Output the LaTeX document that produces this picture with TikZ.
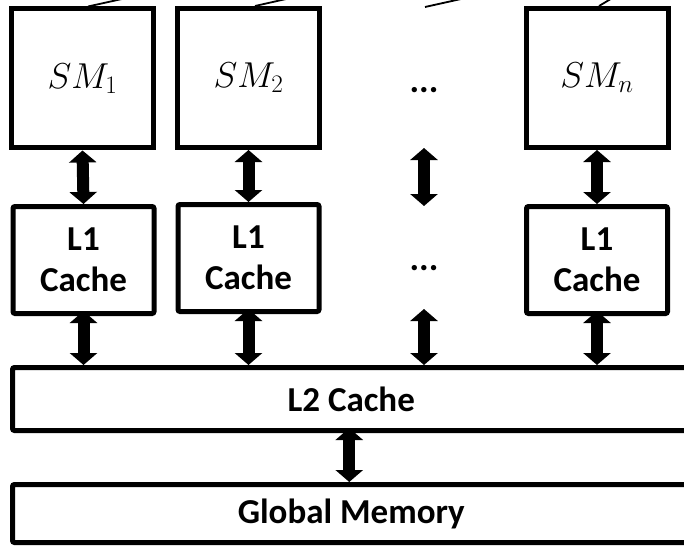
\RequirePackage{fix-cm}
\documentclass[tikz,border=0pt]{standalone}
\usepackage{fontspec}
\setmainfont{Carlito}
\usetikzlibrary{arrows.meta}
\tikzset{
  smbox/.style={draw=black, line width=5pt, minimum width=142pt, minimum height=139pt, inner sep=0pt, font=\fontsize{36}{40}\selectfont},
  lonebox/.style={draw=black, line width=5pt, rounded corners=2pt, minimum width=141pt, minimum height=107pt, inner sep=0pt, align=center, font=\fontsize{35}{41}\selectfont\bfseries},
  widebox/.style={draw=black, line width=5pt, rounded corners=2pt, inner sep=0pt, font=\fontsize{35}{41}\selectfont\bfseries},
  dotsnode/.style={inner sep=0pt, font=\fontsize{36}{40}\selectfont\bfseries},
  bigarrow/.style={line width=12pt, {Triangle[width=27pt,length=12pt]}-{Triangle[width=27pt,length=12pt]}},
  thinline/.style={line width=1.8pt}
}
\begin{document}
\begin{tikzpicture}[x=1pt,y=-1pt]
\useasboundingbox (0,0) rectangle (684,548);
\clip (0,0) rectangle (684,548);
% SM row
\node[smbox] (sm1) at (82.5,78.5) {$SM_1$};
\node[smbox] (sm2) at (248.5,78) {$SM_2$};
\node[dotsnode] (dots1) at (424,90) {...};
\node[smbox] (smn) at (597,78) {$SM_n$};
% L1 row
\node[lonebox] (l1a) at (83.5,260) {L1\\Cache};
\node[lonebox] (l1b) at (248.5,258) {L1\\Cache};
\node[dotsnode] (dots2) at (424,268) {...};
\node[lonebox] (l1n) at (597,260) {L1\\Cache};
% L2 and global
\node[widebox, minimum width=677.5pt, minimum height=63pt] (l2) at (351.25,399) {L2 Cache};
\node[widebox, minimum width=677.5pt, minimum height=58pt] (gm) at (351.25,513.5) {Global Memory};
% middle column coordinates
\coordinate (m1) at (424,148);
\coordinate (m2) at (424,206);
\coordinate (m3) at (424,309);
% top lines
\coordinate (t1) at (140,-5);
\coordinate (t2) at (295,-3);
\coordinate (t3) at (470,-3);
\coordinate (t4) at (614,-3);
\coordinate (b3) at (425,7);
\draw[thinline] ([xshift=5.5pt]sm1.north) -- (t1);
\draw[thinline] ([xshift=6.5pt]sm2.north) -- (t2);
\draw[thinline] (b3) -- (t3);
\draw[thinline] ([xshift=2pt]smn.north) -- (t4);
% arrows SM <-> L1
\draw[bigarrow] (sm1.south) -- (l1a.north);
\draw[bigarrow] (sm2.south) -- (l1b.north);
\draw[bigarrow] (m1) -- (m2);
\draw[bigarrow] (smn.south) -- (l1n.north);
% arrows L1 <-> L2
\draw[bigarrow, shorten <=-5pt] (l1a.south) -- (l1a.south |- l2.north);
\draw[bigarrow, shorten <=-5pt] (l1b.south) -- (l1b.south |- l2.north);
\draw[bigarrow] (m3) -- (m3 |- l2.north);
\draw[bigarrow, shorten <=-5pt] (l1n.south) -- (l1n.south |- l2.north);
% L2 <-> global
\draw[bigarrow, shorten <=-5pt] ([xshift=-2pt]l2.south) -- ([xshift=-2pt]gm.north);
\end{tikzpicture}
\end{document}
